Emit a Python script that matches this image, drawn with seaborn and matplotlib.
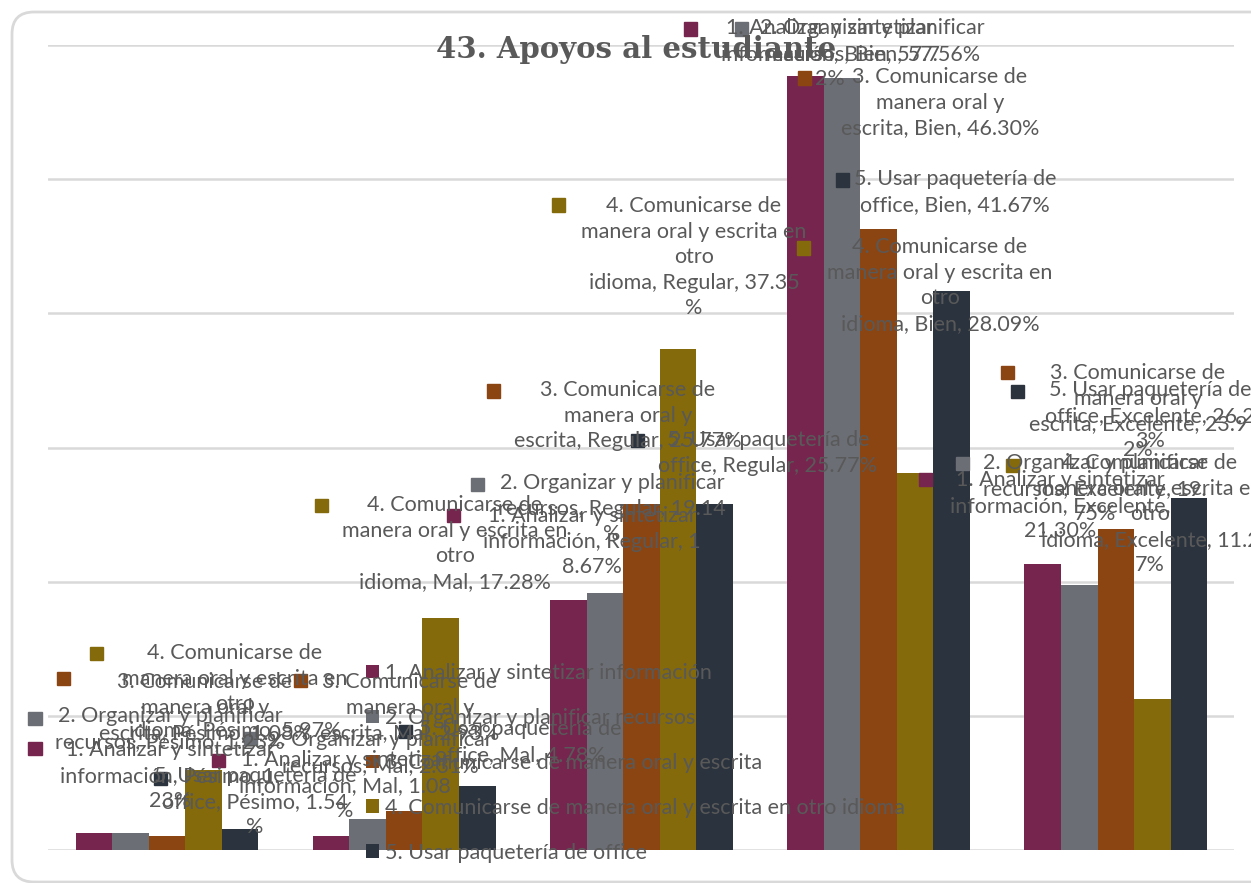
import seaborn as sns
import matplotlib.pyplot as plt
import matplotlib.patches as mpatches
import pandas as pd

sns.set_theme(style="white")
plt.rcParams['font.family'] = ['Lato', 'DejaVu Sans']

# ── data ─────────────────────────────────────────────
categories = ['Pésimo', 'Mal', 'Regular', 'Bien', 'Excelente']
series = [
    '1. Analizar y sintetizar información',
    '2. Organizar y planificar recursos',
    '3. Comunicarse de manera oral y escrita',
    '4. Comunicarse de manera oral y escrita en otro idioma',
    '5. Usar paquetería de office',
]
s1 = [1.23, 1.08, 18.67, 57.72, 21.30]
s2 = [1.23, 2.31, 19.14, 57.56, 19.75]
s3 = [1.08, 2.93, 25.77, 46.30, 23.92]
s4 = [5.97, 17.28, 37.35, 28.09, 11.27]
s5 = [1.54, 4.78, 25.77, 41.67, 26.23]

colors = ['#76264E', '#6B6E74', '#8B4513', '#846A0A', '#2B333E']
text_grey = '#595959'
fs = 15.5

df = pd.DataFrame({
    'Categoria': categories * 5,
    'Serie': [s for s in series for _ in categories],
    'Valor': s1 + s2 + s3 + s4 + s5,
})

W, H = 1251, 883
fig = plt.figure(figsize=(W / 100, H / 100), dpi=100)
ax = fig.add_axes([48.4 / W, 1 - 850 / H, 1186 / W, 805 / H])

sns.barplot(data=df, x='Categoria', y='Valor', hue='Serie', palette=colors,
            width=0.77, saturation=1, linewidth=0, ax=ax, errorbar=None)

ax.set_ylim(0, 60)
ax.set_yticks(range(0, 61, 10))
ax.yaxis.grid(True, color='#D9D9D9', lw=1.8)
ax.set_axisbelow(True)
ax.set_xlabel('')
ax.set_ylabel('')
ax.set_xticklabels([])
ax.set_yticklabels([])
ax.tick_params(length=0)
sns.despine(ax=ax, left=True, bottom=True)

# legend (overlaps the plot, as in the original)
sns.move_legend(ax, loc='upper left', bbox_to_anchor=(366 / W, 1 - 663 / H),
                bbox_transform=fig.transFigure, frameon=False, title=None,
                fontsize=fs, labelspacing=1.16, handlelength=0.6,
                handleheight=0.6, handletextpad=0.3, borderpad=0,
                borderaxespad=0)
for t in ax.get_legend().get_texts():
    t.set_color(text_grey)

# ── data labels (Excel style, with legend keys) ───────
labels = [
    (3, 97, 653, 235, 655, '4. Comunicarse de\nmanera oral y escrita en\notro\nidioma, Pésimo, 5.97%'),
    (2, 63, 678, 205, 684, '3. Comunicarse de\nmanera oral y\nescrita, Pésimo, 1.08%'),
    (1, 35, 718, 170, 718, '2. Organizar y planificar\nrecursos, Pésimo, 1.23%'),
    (0, 35, 748, 170, 752, '1. Analizar y sintetizar\ninformación, Pésimo, 1.\n23%'),
    (4, 160, 778, 255, 778, '5. Usar paquetería de\noffice, Pésimo, 1.54\n%'),
    (0, 218, 760, 345, 762, '1. Analizar y sintetizar\ninformación, Mal, 1.08\n%'),
    (1, 250, 738, 380, 742, '2. Organizar y planificar\nrecursos, Mal, 2.31%'),
    (2, 300, 680, 410, 684, '3. Comunicarse de\nmanera oral y\nescrita, Mal, 2.93%'),
    (3, 322, 505, 455, 507, '4. Comunicarse de\nmanera oral y escrita en\notro\nidioma, Mal, 17.28%'),
    (4, 405, 731, 520, 731, '5. Usar paquetería de\noffice, Mal, 4.78%'),
    (0, 453, 515, 592, 518, '1. Analizar y sintetizar\ninformación, Regular, 1\n8.67%'),
    (1, 478, 484, 612, 485, '2. Organizar y planificar\nrecursos, Regular, 19.14\n%'),
    (2, 493, 391, 628, 392, '3. Comunicarse de\nmanera oral y\nescrita, Regular, 25.77%'),
    (3, 558, 205, 694, 208, '4. Comunicarse de\nmanera oral y escrita en\notro\nidioma, Regular, 37.35\n%'),
    (4, 637, 440, 768, 442, '5. Usar paquetería de\noffice, Regular, 25.77%'),
    (0, 690, 29, 830, 30, '1. Analizar y sintetizar\ninformación, Bien, 57.7\n2%'),
    (1, 741, 29, 872, 30, '2. Organizar y planificar\nrecursos, Bien, 57.56%'),
    (2, 805, 78, 940, 79, '3. Comunicarse de\nmanera oral y\nescrita, Bien, 46.30%'),
    (4, 842, 180, 955, 181, '5. Usar paquetería de\noffice, Bien, 41.67%'),
    (3, 803, 248, 940, 249, '4. Comunicarse de\nmanera oral y escrita en\notro\nidioma, Bien, 28.09%'),
    (2, 1007, 373, 1138, 375, '3. Comunicarse de\nmanera oral y\nescrita, Excelente, 23.9\n2%'),
    (4, 1017, 392, 1150, 392, '5. Usar paquetería de\noffice, Excelente, 26.2\n3%'),
    (1, 962, 463, 1095, 465, '2. Organizar y planificar\nrecursos, Excelente, 19.\n75%'),
    (3, 1012, 465, 1150, 465, '4. Comunicarse de\nmanera oral y escrita en\notro\nidioma, Excelente, 11.2\n7%'),
    (0, 925, 480, 1060, 482, '1. Analizar y sintetizar\ninformación, Excelente,\n21.30%'),
]
for idx, mx, my, tx, ty, txt in labels:
    fig.add_artist(mpatches.Rectangle((mx / W - 6.5 / W, 1 - my / H - 6.5 / H),
                                      13 / W, 13 / H, color=colors[idx],
                                      transform=fig.transFigure))
    fig.text(tx / W, 1 - (ty - 12) / H, txt, ha='center', va='top',
             fontsize=fs, color=text_grey, linespacing=1.35)

fig.text(636 / W, 1 - 50 / H, '43. Apoyos al estudiante', ha='center',
         va='center', fontsize=21, fontweight='bold', color=text_grey,
         family='DejaVu Serif')

# outer rounded frame
fig.add_artist(mpatches.FancyBboxPatch((12, 1), 1300, 870, transform=None,
                                       boxstyle='round,pad=0,rounding_size=22',
                                       fill=False, ec='#D9D9D9', lw=2))

fig.savefig('out.png', dpi=100)
